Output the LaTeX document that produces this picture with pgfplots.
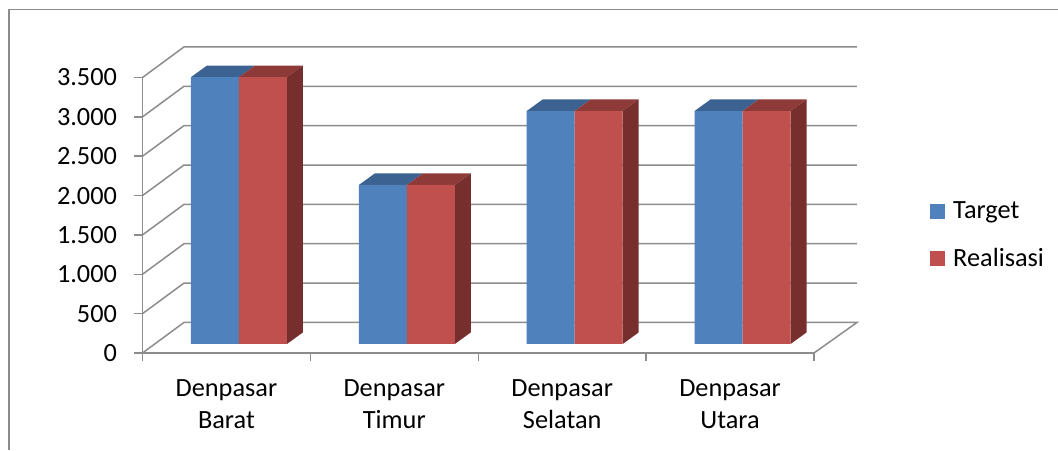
\documentclass[border=0pt]{standalone}
\usepackage{fontspec}
\setmainfont{Carlito}
\usepackage{pgfplots}
\pgfplotsset{compat=1.18}
\usepackage{pgfplotstable}
\definecolor{gridc}{RGB}{140,140,140}
\definecolor{bluef}{RGB}{79,129,189}
\definecolor{redf}{RGB}{192,80,77}
\definecolor{bluet}{RGB}{60,98,145}
\definecolor{redt}{RGB}{142,58,56}
\definecolor{reds}{RGB}{119,47,45}
\pgfplotstableread{
pos Target Realisasi
0.5 3390 3390
1.5 2020 2020
2.5 2960 2960
3.5 2960 2960
}\bardata
\begin{document}
\begin{tikzpicture}[x=1pt,y=1pt]
\useasboundingbox (0,0) rectangle (1058,450);
\draw[gridc,line width=1.3pt] (9,0) -- (9,440.5) -- (1058,440.5);
\begin{axis}[
  at={(142.5pt,97pt)},anchor=south west,scale only axis,
  width=671.5pt,height=275.5pt,
  xmin=0,xmax=4,ymin=0,ymax=3500,clip=false,
  axis x line*=bottom,axis y line*=left,
  axis line style={gridc,line width=1.5pt},
  tick style={gridc,line width=1.5pt},
  tick align=outside,major tick length=8pt,
  xtick={0,1,2,3,4},xticklabels={},
  extra x ticks={0.5,1.5,2.5,3.5},
  extra x tick labels={Denpasar\\Barat,Denpasar\\Timur,Denpasar\\Selatan,Denpasar\\Utara},
  extra x tick style={major tick length=0pt,
    tick label style={align=center,yshift=-23pt}},
  x tick label style={font=\fontsize{26.3}{32}\selectfont},
  ytick={0,500,1000,1500,2000,2500,3000,3500},
  y tick label style={font=\fontsize{26.3}{32}\selectfont,xshift=-14pt},
  /pgf/number format/.cd,1000 sep={.},assume math mode=true,
]
\addplot[gridc,line width=1.5pt] coordinates {(0,0) (0.247,388) (4.256,388) (4,0)};
\addplot[gridc,line width=1.5pt] coordinates {(0,500) (0.247,888) (4.256,888)};
\addplot[gridc,line width=1.5pt] coordinates {(0,1000) (0.247,1388) (4.256,1388)};
\addplot[gridc,line width=1.5pt] coordinates {(0,1500) (0.247,1888) (4.256,1888)};
\addplot[gridc,line width=1.5pt] coordinates {(0,2000) (0.247,2388) (4.256,2388)};
\addplot[gridc,line width=1.5pt] coordinates {(0,2500) (0.247,2888) (4.256,2888)};
\addplot[gridc,line width=1.5pt] coordinates {(0,3000) (0.247,3388) (4.256,3388)};
\addplot[gridc,line width=1.5pt] coordinates {(0,3500) (0.247,3888) (4.256,3888)};
\end{axis}
\begin{axis}[
  at={(155pt,106pt)},anchor=south west,scale only axis,
  width=671.5pt,height=275.5pt,
  xmin=0,xmax=4,ymin=0,ymax=3500,clip=false,
  hide axis,
  legend image code/.code={\fill[#1] (0pt,-7.5pt) rectangle (15pt,7.5pt);},
  legend style={at={(1.1545,0.396)},anchor=west,draw=none,fill=none,
    font=\fontsize{26.3}{30}\selectfont,row sep=24pt,inner sep=0pt,outer sep=0pt,
    /tikz/column 1/.style={column sep=6pt}},
  legend cell align=left,
]
% top and side faces
\addplot[forget plot,draw=none,fill=bluet] coordinates {(0.2141,3390) (0.3094,3537) (0.5953,3537) (0.5,3390)};
\addplot[forget plot,draw=none,fill=redt] coordinates {(0.5,3390) (0.5953,3537) (0.8812,3537) (0.7859,3390)};
\addplot[forget plot,draw=none,fill=reds] coordinates {(0.7859,0) (0.8812,147) (0.8812,3537) (0.7859,3390)};
\addplot[forget plot,draw=none,fill=bluet] coordinates {(1.2141,2020) (1.3094,2167) (1.5953,2167) (1.5,2020)};
\addplot[forget plot,draw=none,fill=redt] coordinates {(1.5,2020) (1.5953,2167) (1.8812,2167) (1.7859,2020)};
\addplot[forget plot,draw=none,fill=reds] coordinates {(1.7859,0) (1.8812,147) (1.8812,2167) (1.7859,2020)};
\addplot[forget plot,draw=none,fill=bluet] coordinates {(2.2141,2960) (2.3094,3107) (2.5953,3107) (2.5,2960)};
\addplot[forget plot,draw=none,fill=redt] coordinates {(2.5,2960) (2.5953,3107) (2.8812,3107) (2.7859,2960)};
\addplot[forget plot,draw=none,fill=reds] coordinates {(2.7859,0) (2.8812,147) (2.8812,3107) (2.7859,2960)};
\addplot[forget plot,draw=none,fill=bluet] coordinates {(3.2141,2960) (3.3094,3107) (3.5953,3107) (3.5,2960)};
\addplot[forget plot,draw=none,fill=redt] coordinates {(3.5,2960) (3.5953,3107) (3.8812,3107) (3.7859,2960)};
\addplot[forget plot,draw=none,fill=reds] coordinates {(3.7859,0) (3.8812,147) (3.8812,3107) (3.7859,2960)};
% front faces
\addplot[ybar,bar width=48pt,bar shift=-24pt,draw=none,fill=bluef] table[x=pos,y=Target] {\bardata};
\addplot[ybar,bar width=48pt,bar shift=24pt,draw=none,fill=redf] table[x=pos,y=Realisasi] {\bardata};
\legend{Target,Realisasi}
\end{axis}
\end{tikzpicture}
\end{document}
